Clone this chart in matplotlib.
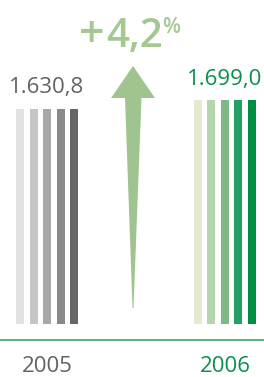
import numpy as np
import matplotlib.pyplot as plt
from matplotlib.patches import Polygon

# dati
anni = ['2005', '2006']
valori = [1630.8, 1699.0]
etichette = ['1.630,8', '1.699,0']
variazione = '4,2'
grigi = ['#e2e2e2', '#c4c5c7', '#a7a8aa', '#88898b', '#656668']
verdi = ['#e3ead0', '#b5d5ae', '#7fba86', '#25a065', '#008d45']

W, H = 264, 377
base = 324  # pixel della base delle barre
k = valori[1] / 224.0  # valore per pixel

fig = plt.figure(figsize=(W / 100, H / 100), dpi=100)
ax = fig.add_axes([0, 0, 1, 1])
ax.set_xlim(0, W)
ax.set_ylim(-(H - base) * k, base * k)
ax.axis('off')

# barre: 5 strisce per anno, tutte alla stessa altezza
x_grigi = [20, 34, 47, 61, 74]
x_verdi = [198, 211, 225, 238, 252]
ax.bar(x_grigi, [valori[0]] * 5, width=8, color=grigi)
ax.bar(x_verdi, [valori[1]] * 5, width=8, color=verdi)

# overlay in pixel per freccia e linea
px = fig.add_axes([0, 0, 1, 1])
px.set_xlim(0, W)
px.set_ylim(H, 0)
px.axis('off')
px.patch.set_alpha(0)

freccia = [(133, 66), (155, 98), (141.5, 98), (133.5, 308), (132.5, 308),
           (125, 98), (111, 98)]
px.add_patch(Polygon(freccia, closed=True, color='#a0c48f', lw=0))

px.plot([0, W], [340, 340], color='#3fa46d', lw=1.2)

font = 'Open Sans'
fig.text(47 / W, 1 - 87 / H, etichette[0], ha='center', va='center',
         fontsize=16, color='#616264', family=font)
fig.text(225 / W, 1 - 80 / H, etichette[1], ha='center', va='center',
         fontsize=16, color='#0b8f4c', family=font)
fig.text(47 / W, 1 - 366 / H, anni[0], ha='center', va='center',
         fontsize=16, color='#616264', family=font)
fig.text(225 / W, 1 - 366 / H, anni[1], ha='center', va='center',
         fontsize=16, color='#0b8f4c', family=font)

verde_chiaro = '#a3c890'
fig.text(92 / W, 1 - 47 / H, '+', ha='center', va='baseline',
         fontsize=32, color=verde_chiaro, family=font, fontweight='semibold')
fig.text(106 / W, 1 - 47 / H, variazione, ha='left', va='baseline',
         fontsize=29, color=verde_chiaro, family=font, fontweight='semibold')
fig.text(162 / W, 1 - 33 / H, '%', ha='left', va='baseline',
         fontsize=15, color=verde_chiaro, family=font, fontweight='semibold')

fig.savefig('out.png', dpi=100)
